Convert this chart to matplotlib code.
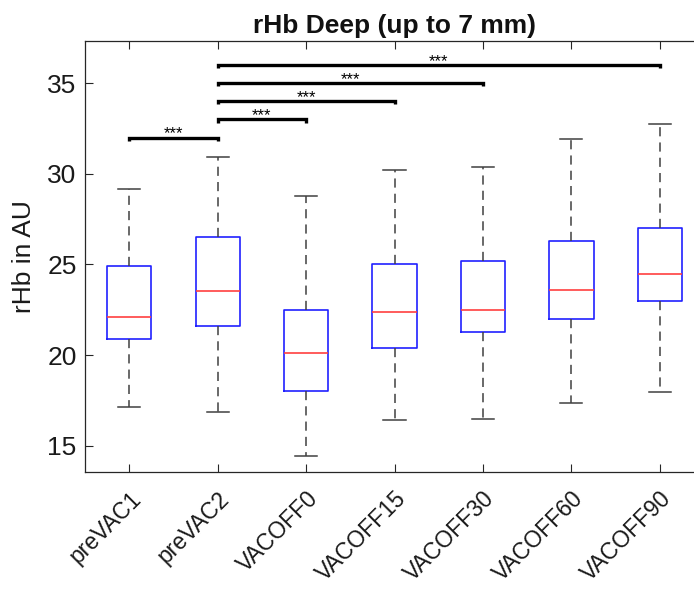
import matplotlib
matplotlib.use("Agg")
import matplotlib.pyplot as plt
from matplotlib.transforms import ScaledTranslation

# box statistics (rHb in AU)
groups = ["preVAC1", "preVAC2", "VACOFF0", "VACOFF15", "VACOFF30", "VACOFF60", "VACOFF90"]
whisker_low = [17.13, 16.85, 14.45, 16.4, 16.5, 17.35, 17.95]
q1 = [20.9, 21.6, 18.05, 20.4, 21.3, 22.0, 23.0]
median = [22.1, 23.56, 20.1, 22.4, 22.5, 23.6, 24.45]
q3 = [24.9, 26.5, 22.5, 25.05, 25.2, 26.3, 27.0]
whisker_high = [29.14, 30.94, 28.8, 30.2, 30.4, 31.9, 32.75]

# significance brackets: (from group, to group, height)
sig_from = [1, 2, 2, 2, 2]
sig_to = [2, 3, 4, 5, 7]
sig_y = [32.0, 33.0, 34.0, 35.0, 36.0]
sig_label = ["***", "***", "***", "***", "***"]

plt.rcParams["font.family"] = ["Liberation Sans", "DejaVu Sans"]

stats = []
for i in range(len(groups)):
    stats.append(dict(label=groups[i], whislo=whisker_low[i], q1=q1[i], med=median[i],
                      q3=q3[i], whishi=whisker_high[i], fliers=[]))

fig = plt.figure(figsize=(6.94, 5.90), dpi=100)
ax = fig.add_axes([0.1225, 0.2, 0.892, 0.7305])

axcol = "#262626"
ax.bxp(stats, positions=range(1, len(groups) + 1), widths=0.5, showfliers=False,
       boxprops=dict(color="#2020ff", linewidth=1.2),
       medianprops=dict(color="#ff4040", linewidth=1.2),
       whiskerprops=dict(color="#404040", linewidth=1.1, linestyle=(0, (6, 4))),
       capprops=dict(color="#404040", linewidth=1.1),
       capwidths=0.25)

for a, b, y, lab in zip(sig_from, sig_to, sig_y, sig_label):
    ax.plot([a, a, b, b], [y - 0.18, y, y, y - 0.18], color="black", lw=2.4,
            solid_capstyle="butt", solid_joinstyle="miter")
    ax.text((a + b) / 2, y - 0.05, lab, ha="center", va="baseline", fontsize=12)

ax.set_xlim(0.5, 7.5)
ax.set_ylim(13.56, 37.32)
ax.set_yticks([15, 20, 25, 30, 35])
ax.set_xticks(range(1, len(groups) + 1))
ax.set_xticklabels(groups, rotation=45, ha="right", rotation_mode="anchor", fontsize=16.5)
shift = ScaledTranslation(8 / 72, 0, fig.dpi_scale_trans)
for lab in ax.get_xticklabels():
    lab.set_transform(lab.get_transform() + shift)
for lab in ax.get_yticklabels():
    lab.set_fontsize(19)
ax.tick_params(direction="in", length=6, width=0.8, color=axcol, labelcolor="#1a1a1a",
               top=True, right=True, pad=6)
ax.tick_params(axis="x", pad=11)
for s in ax.spines.values():
    s.set_color(axcol)
    s.set_linewidth(0.9)

ax.set_ylabel("rHb in AU", fontsize=19, color="#1a1a1a", labelpad=8)
ax.set_title("rHb Deep (up to 7 mm)", fontsize=19, fontweight="bold",
             color="#111111", pad=6)

fig.savefig("out.png", dpi=100)
